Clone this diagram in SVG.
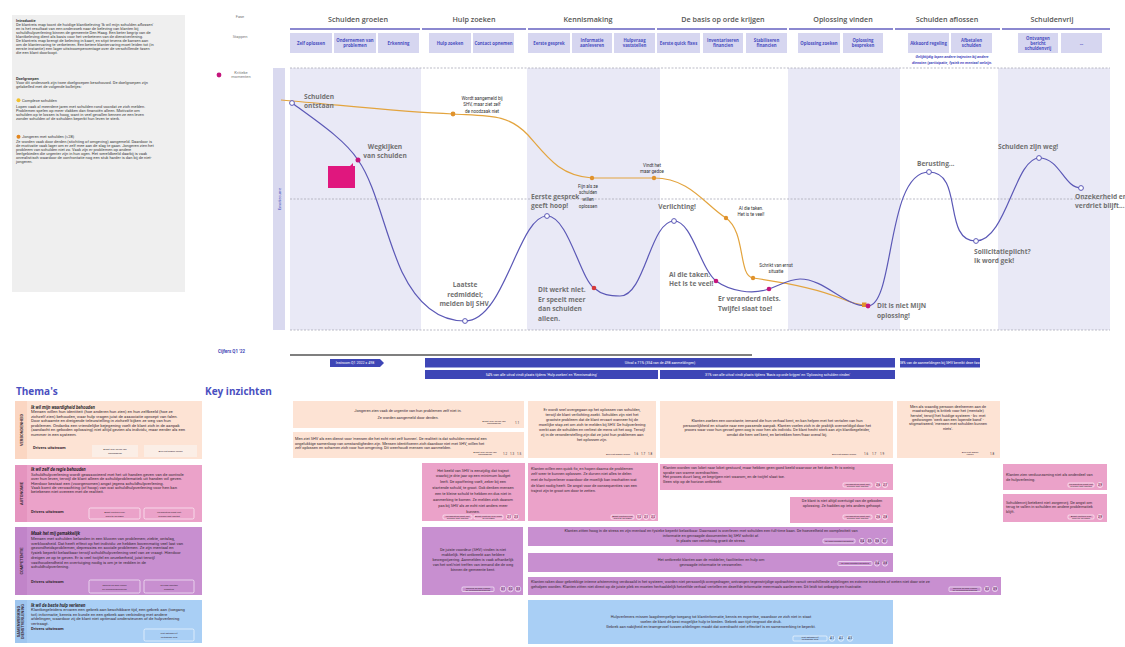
<svg xmlns="http://www.w3.org/2000/svg" width="1125" height="647" viewBox="0 0 1125 647">
<style>
.bg{fill:#ffffff}
.t{font-family:Roboto,"Liberation Sans",sans-serif;fill:#3b3b3b}
.tb{font-weight:700}
.ph{font-family:"Open Sans","Liberation Sans",sans-serif;font-size:7.2px;font-weight:600;fill:#555;text-anchor:middle}
.lbl{font-family:Roboto,"Liberation Sans",sans-serif;font-size:4px;fill:#777;text-anchor:middle}
.step rect{fill:#d6d6f0}
.step text{font-family:"Open Sans","Liberation Sans",sans-serif;font-size:4.3px;font-weight:700;fill:#4a4fc0;text-anchor:middle}
.band{fill:#e9e9f6}
.dash{stroke:#a9a9b8;stroke-width:0.8;stroke-dasharray:2,1.5;fill:none}
.cl{font-family:"Open Sans","Liberation Sans",sans-serif;font-size:6.6px;font-weight:700;fill:#727272}
.ol{font-family:Roboto,"Liberation Sans",sans-serif;font-size:4.5px;fill:#333;text-anchor:middle}
.wc{fill:#fff;stroke:#5b58b6;stroke-width:1}
.od{fill:#e0922c}
.md{fill:#c4157c}
.bar{fill:#3e46b6}
.bart{font-family:Roboto,"Liberation Sans",sans-serif;font-size:3.6px;fill:#fff;text-anchor:middle}
.peach{fill:#fde3d4}
.pink{fill:#eba2c9}
.purp{fill:#c88fd0}
.blue{fill:#a9cff5}
.kt{font-family:Roboto,"Liberation Sans",sans-serif;font-size:3.9px;fill:#3a2b35}
.mid{text-anchor:middle}
.chip{fill:none;stroke:#fff;stroke-width:0.6}
.chipl{fill:#fbeee6;stroke:none}
.ct{font-family:Roboto,"Liberation Sans",sans-serif;font-size:2.4px;fill:#3a2b35;text-anchor:middle}
.cc{fill:none;stroke:#fff;stroke-width:0.6}
.cn{font-family:Roboto,"Liberation Sans",sans-serif;font-size:3px;fill:#3a2b35;text-anchor:middle}
.th{font-family:Roboto,"Liberation Sans",sans-serif;font-size:4.2px;fill:#3a2b35}
.tht{font-family:Roboto,"Liberation Sans",sans-serif;font-size:4.4px;font-weight:700;font-style:italic;fill:#2a1f28}
.rot{font-family:Roboto,"Liberation Sans",sans-serif;font-size:4px;font-weight:700;fill:#3a2b35;text-anchor:middle}
.h2{font-family:"Open Sans","Liberation Sans",sans-serif;font-size:10px;font-weight:700;fill:#4a4fc0}
</style>
<rect class="bg" x="0" y="0" width="1125" height="647"/>

<!-- Intro panel -->
<g id="intro">
<rect x="12" y="15" width="173" height="277" fill="#efefef"/>
<text class="t" font-size="4px"><tspan x="16" y="22" class="tb">Introductie</tspan>
<tspan x="16" y="26.3">De klantreis map toont de huidige klantbeleving 'Ik wil mijn schulden aflossen'</tspan>
<tspan x="16" y="30.3">en is het resultaat van een onderzoek naar de beleving van klanten bij</tspan>
<tspan x="16" y="34.3">schuldhulpverlening binnen de gemeente Den Haag. Een beter begrip van de</tspan>
<tspan x="16" y="38.3">klantbeleving dient als basis voor het verbeteren van de dienstverlening.</tspan>
<tspan x="16" y="42.3">De klantreis map brengt de beleving in kaart, en stipt tevens de kansen aan</tspan>
<tspan x="16" y="46.3">om de klantervaring te verbeteren. Een betere klantervaring moet leiden tot (in</tspan>
<tspan x="16" y="50.3">eerste instantie) een lager uitstroompercentage over de verschillende fasen</tspan>
<tspan x="16" y="54.3">die een klant doorloopt.</tspan>
<tspan x="16" y="80" class="tb">Doelgroepen</tspan>
<tspan x="16" y="84">Voor dit onderzoek zijn twee doelgroepen beschouwd. De doelgroepen zijn</tspan>
<tspan x="16" y="88">gelabelled met de volgende bolletjes:</tspan>
<tspan x="22" y="101.5">Complexe schulden</tspan>
<tspan x="16" y="108">Lopen vaak al meerdere jaren met schulden rond voordat ze zich melden.</tspan>
<tspan x="16" y="112">Problemen spelen op meer vlakken dan financiën alleen. Motivatie om</tspan>
<tspan x="16" y="116">schulden op te lossen is hoog, want in veel gevallen kennen ze een leven</tspan>
<tspan x="16" y="120">zonder schulden of de schulden beperkt hun leven te sterk.</tspan>
<tspan x="22" y="138">Jongeren met schulden (&lt;28)</tspan>
<tspan x="16" y="143">Ze worden vaak door derden (stichting of omgeving) aangemeld. Daardoor is</tspan>
<tspan x="16" y="147">de motivatie vaak lager om er zelf mee aan de slag te gaan. Jongeren zien het</tspan>
<tspan x="16" y="151">probleem van schulden niet zo. Vaak zijn er problemen op andere</tspan>
<tspan x="16" y="155">leefgebieden die urgenter zijn in hun ogen. Het wereldbeeld daarbij is vaak</tspan>
<tspan x="16" y="159">onrealistisch waardoor de confrontatie nog een stuk harder is dan bij de niet-</tspan>
<tspan x="16" y="163">jongeren.</tspan></text>
<circle cx="18.5" cy="100.3" r="2" fill="#f2c12e"/>
<circle cx="18.5" cy="136.8" r="2" fill="#e2861e"/>
</g>

<!-- Header -->
<g id="header">
<text class="lbl" x="240" y="18">Fase</text>
<text class="lbl" x="240" y="38">Stappen</text>
<circle cx="219" cy="75" r="2.4" class="md"/>
<text class="lbl" x="241" y="73.5">Kritieke</text>
<text class="lbl" x="241" y="78.3">momenten</text>
<text class="ph" x="358" y="22">Schulden groeien</text>
<text class="ph" x="474" y="22">Hulp zoeken</text>
<text class="ph" x="588" y="22">Kennismaking</text>
<text class="ph" x="723" y="22">De basis op orde krijgen</text>
<text class="ph" x="843" y="22">Oplossing vinden</text>
<text class="ph" x="947" y="22">Schulden aflossen</text>
<text class="ph" x="1052" y="22">Schuldenvrij</text>
<g stroke="#8b88d0" stroke-width="1.8">
<line x1="290" y1="29" x2="420" y2="29"/><line x1="422" y1="29" x2="526" y2="29"/><line x1="528" y1="29" x2="655" y2="29"/><line x1="657" y1="29" x2="787" y2="29"/><line x1="789" y1="29" x2="893" y2="29"/><line x1="895" y1="29" x2="1000" y2="29"/><line x1="1002" y1="29" x2="1110" y2="29"/>
</g>
</g>

<g id="steps">
<g class="step" id="s1"><rect x="290" y="33" width="42" height="20"/><text x="311" y="44.5">Zelf oplossen</text></g>
<g class="step" id="s2"><rect x="334" y="33" width="42" height="20"/><text x="355" y="42">Ondernemen van</text><text x="355" y="47.2">problemen</text></g>
<g class="step" id="s3"><rect x="378" y="33" width="41" height="20"/><text x="398.5" y="44.5">Erkenning</text></g>
<g class="step" id="s4"><rect x="429" y="33" width="42" height="20"/><text x="450" y="44.5">Hulp zoeken</text></g>
<g class="step" id="s5"><rect x="473" y="33" width="41" height="20"/><text x="493.5" y="44.5">Contact opnemen</text></g>
<g class="step" id="s6"><rect x="528" y="33" width="42" height="20"/><text x="549" y="44.5">Eerste gesprek</text></g>
<g class="step" id="s7"><rect x="572" y="33" width="40" height="20"/><text x="592" y="42">Informatie</text><text x="592" y="47.2">aanleveren</text></g>
<g class="step" id="s8"><rect x="614" y="33" width="41" height="20"/><text x="634.5" y="42">Hulpvraag</text><text x="634.5" y="47.2">vaststellen</text></g>
<g class="step" id="s9"><rect x="657" y="33" width="43" height="20"/><text x="678.5" y="44.5">Eerste quick fixes</text></g>
<g class="step" id="s10"><rect x="703" y="33" width="40" height="20"/><text x="723" y="42">Inventariseren</text><text x="723" y="47.2">financien</text></g>
<g class="step" id="s11"><rect x="746" y="33" width="41" height="20"/><text x="766.5" y="42">Stabiliseren</text><text x="766.5" y="47.2">financien</text></g>
<g class="step" id="s12"><rect x="798" y="33" width="42" height="20"/><text x="819" y="44.5">Oplossing zoeken</text></g>
<g class="step" id="s13"><rect x="843" y="33" width="40" height="20"/><text x="863" y="42">Oplossing</text><text x="863" y="47.2">bespreken</text></g>
<g class="step" id="s14"><rect x="908" y="33" width="41" height="20"/><text x="928.5" y="44.5">Akkoord regeling</text></g>
<g class="step" id="s15"><rect x="951" y="33" width="41" height="20"/><text x="971.5" y="42">Afbetalen</text><text x="971.5" y="47.2">schulden</text></g>
<g class="step" id="s16"><rect x="1018" y="33" width="40" height="20"/><text x="1038" y="39.5">Ontvangen</text><text x="1038" y="44.5">bericht</text><text x="1038" y="49.5">schuldenvrij</text></g>
<g class="step" id="s17"><rect x="1061" y="33" width="41" height="20"/><text x="1081.5" y="44.5">...</text></g>
<text font-family="Roboto,'Liberation Sans',sans-serif" font-size="3.8px" font-style="italic" font-weight="700" fill="#4a4fc0" text-anchor="middle"><tspan x="952" y="58">Gelijktijdig lopen andere trajecten bij andere</tspan><tspan x="952" y="64">diensten (participatie, fysiek en mentaal welzijn.</tspan></text>
</g>

<!-- Chart -->
<g id="chart">
<rect class="band" x="290" y="68" width="131" height="262"/>
<rect class="band" x="527" y="68" width="133" height="262"/>
<rect class="band" x="788" y="68" width="112" height="262"/>
<rect class="band" x="998" y="68" width="112" height="262"/>
<rect x="273" y="68" width="12" height="262" fill="#d9d9ef"/>
<text transform="translate(280.5,199) rotate(-90)" font-family="Roboto,'Liberation Sans',sans-serif" font-size="4px" fill="#4a4fc0" text-anchor="middle">Emotiecurve</text>
<line class="dash" x1="290" y1="68" x2="1110" y2="68"/>
<line class="dash" x1="290" y1="199" x2="1110" y2="199"/>
<line class="dash" x1="290" y1="330" x2="1110" y2="330"/>
</g>

<g id="connectors">
<path d="M281,100 C350,106 400,112 453,114 C490,116 508,114 528,135 C548,158 560,176 592,178 L654,178 C690,178 705,205 726,218 C746,232 738,276 753,278 C790,283 820,290 840,298 C852,303 858,305 866,305" fill="none" stroke="#e3a43e" stroke-width="1.2"/>
<path d="M292,103 C318,122 345,140 358,160 C376,185 385,235 402,272 C418,305 440,321 465,321 C505,321 518,216 547,216 C568,216 580,278 594,288 C602,295 610,296 620,296 C645,296 650,221 674,221 C692,221 700,268 716,281 C730,291 752,295 769,289 C780,285 790,279 800,279 C825,279 845,307 868,306 C895,305 886,172 929,172 C964,172 942,241 976,241 C1006,241 1015,158 1039,158 C1060,158 1064,188 1081,188" fill="none" stroke="#5b58b6" stroke-width="1.2"/>
</g>

<g id="markers">
<circle class="od" cx="453" cy="114" r="2.4"/>
<circle class="od" cx="592" cy="178" r="2.2"/>
<circle class="od" cx="654" cy="178" r="2.2"/>
<circle class="od" cx="726" cy="218" r="2.2"/>
<circle class="od" cx="753" cy="278" r="2.2"/>
<rect class="od" x="862" y="302.5" width="4.5" height="4.5"/>
<circle class="md" cx="358" cy="160" r="2.5"/>
<circle class="md" cx="716" cy="281" r="2.3"/>
<circle class="md" cx="769" cy="289" r="2.3"/>
<circle class="md" cx="868" cy="306" r="2.4"/>
<circle cx="594" cy="288" r="2.3" fill="#d63a3a"/>
<circle class="wc" cx="292" cy="103" r="2.4"/>
<circle class="wc" cx="465" cy="321" r="2.4"/>
<circle class="wc" cx="547" cy="216" r="2.4"/>
<circle class="wc" cx="674" cy="221" r="2.4"/>
<circle class="wc" cx="929" cy="172" r="2.4"/>
<circle class="wc" cx="976" cy="241" r="2.4"/>
<circle class="wc" cx="1039" cy="158" r="2.4"/>
<circle class="wc" cx="1081" cy="188" r="2.4"/>
<path d="M328,166 H350 L353,163 L353,166 H355 V188 H328 Z" fill="#e0177e"/>
</g>

<g id="curve-labels">
<text class="cl"><tspan x="304" y="98.5">Schulden</tspan><tspan x="304" y="107.5">ontstaan</tspan></text>
<text class="cl" text-anchor="middle"><tspan x="385" y="148.5">Wegkijken</tspan><tspan x="385" y="157.5">van schulden</tspan></text>
<text class="cl" text-anchor="middle"><tspan x="465" y="287">Laatste</tspan><tspan x="465" y="296.5">redmiddel;</tspan><tspan x="465" y="306">melden bij SHV.</tspan></text>
<text class="cl"><tspan x="531" y="198.5">Eerste gesprek</tspan><tspan x="531" y="208">geeft hoop!</tspan></text>
<text class="cl"><tspan x="538" y="292">Dit werkt niet.</tspan><tspan x="538" y="301.5">Er speelt meer</tspan><tspan x="538" y="311">dan schulden</tspan><tspan x="538" y="320.5">alleen.</tspan></text>
<text class="cl" text-anchor="middle"><tspan x="677" y="209">Verlichting!</tspan></text>
<text class="cl"><tspan x="669" y="276.5">Al die taken.</tspan><tspan x="669" y="285.5">Het is te veel!</tspan></text>
<text class="cl"><tspan x="718" y="301">Er veranderd niets.</tspan><tspan x="718" y="311">Twijfel slaat toe!</tspan></text>
<text class="cl"><tspan x="877" y="307.5">Dit is niet MIJN</tspan><tspan x="877" y="317.5">oplossing!</tspan></text>
<text class="cl"><tspan x="917" y="166">Berusting...</tspan></text>
<text class="cl"><tspan x="974" y="253.5">Sollicitatieplicht?</tspan><tspan x="974" y="262.5">Ik word gek!</tspan></text>
<text class="cl"><tspan x="998" y="149">Schulden zijn weg!</tspan></text>
<text class="cl"><tspan x="1075" y="198.5">Onzekerheid en</tspan><tspan x="1075" y="208">verdriet blijft...</tspan></text>
<text class="ol"><tspan x="482" y="99.5">Wordt aangemeld bij</tspan><tspan x="482" y="106">SHV, maar ziet zelf</tspan><tspan x="482" y="112.5">de noodzaak niet</tspan></text>
<text class="ol"><tspan x="588" y="187.5">Fijn als ze</tspan><tspan x="588" y="194.3">schulden</tspan><tspan x="588" y="201">willen</tspan><tspan x="588" y="207.8">oplossen</tspan></text>
<text class="ol"><tspan x="652" y="166.5">Vindt het</tspan><tspan x="652" y="173">maar gedoe</tspan></text>
<text class="ol"><tspan x="751" y="209.5">Al die taken.</tspan><tspan x="751" y="215.8">Het is te veel!</tspan></text>
<text class="ol"><tspan x="776" y="266.5">Schrikt van ernst</tspan><tspan x="776" y="273">situatie</tspan></text>
</g>

<!-- Cijfers -->
<g id="cijfers">
<text font-family="Roboto,'Liberation Sans',sans-serif" font-size="4.5px" font-weight="700" fill="#3e46b6" x="218" y="353">Cijfers Q1 '22</text>
<line x1="290" y1="355" x2="752" y2="355" stroke="#555" stroke-width="1.3"/>
<path class="bar" d="M330,359 H380 L384,363 L380,367 H330 Z"/>
<text class="bart" x="355" y="364.3">Instroom Q1 2022 = 498</text>
<rect class="bar" x="425" y="358" width="470" height="9.5"/>
<text class="bart" x="660" y="364">Uitval = 71% (354 van de 498 aanmeldingen)</text>
<rect class="bar" x="900" y="358" width="80" height="9.5"/>
<text class="bart" x="940" y="364">28% van de aanmeldingen bij SHV bereikt deze fase</text>
<rect class="bar" x="425" y="370" width="233" height="9"/>
<text class="bart" x="541.5" y="375.8">54% van alle uitval vindt plaats tijdens 'Hulp zoeken' en 'Kennismaking'</text>
<rect class="bar" x="660" y="370" width="235" height="9"/>
<text class="bart" x="777.5" y="375.8">31% van alle uitval vindt plaats tijdens 'Basis op orde krijgen' en 'Oplossing schulden vinden'</text>
</g>

<!-- Themes -->
<text class="h2" x="16" y="395">Thema's</text>
<text class="h2" x="205" y="395">Key inzichten</text>

<g id="theme1">
<rect class="peach" x="15" y="401" width="187" height="58"/>
<rect x="15" y="401" width="12" height="58" fill="#fbd6c2"/>
<text class="rot" transform="translate(22.5,430) rotate(-90)">VERBONDENHEID</text>
<text class="tht" x="31" y="408.5">Ik wil mijn waardigheid behouden</text>
<text class="th"><tspan x="31" y="413">Mensen willen hun identiteit (hoe anderen hun zien) en hun zelfbeeld (hoe ze</tspan><tspan x="31" y="417.6">zichzelf zien) behouden, waar hulp vragen juist de associatie oproept van falen.</tspan><tspan x="31" y="422.2">Door schaamte en dreigende teleurstelling in zichzelf kijken ze weg van hun</tspan><tspan x="31" y="426.8">problemen. Ondanks een vriendelijke bejegening voelt de klant zich in de aanpak</tspan><tspan x="31" y="431.4">(aandacht en geboden oplossing) niet altijd gezien als individu, maar eerder als een</tspan><tspan x="31" y="436">nummer in een systeem.</tspan></text>
<text class="th tb" x="33" y="448.5">Drivers uitstroom</text>
<rect class="chipl" x="92" y="445" width="46" height="12"/>
<text class="ct" font-size="3.4px"><tspan x="115" y="450">Angst voor verlies van</tspan><tspan x="115" y="454">eigenwaarde</tspan></text>
<rect class="chipl" x="144" y="445" width="53" height="12"/>
<text class="ct" font-size="3.4px" x="170.5" y="452">Zich niet gezien voelen</text>
</g>

<g id="theme2">
<rect class="pink" x="15" y="465" width="187" height="57"/>
<rect x="15" y="465" width="12" height="57" fill="#e594bf"/>
<text class="rot" transform="translate(22.5,493.5) rotate(-90)">AUTONOMIE</text>
<text class="tht" x="31" y="471">Ik wil zelf de regie behouden</text>
<text class="th"><tspan x="31" y="475.7">Schuldhulpverlening wordt geassocieerd met het uit handen geven van de controle</tspan><tspan x="31" y="480.1">over hun leven, terwijl de klant alleen de schuldproblematiek uit handen wil geven.</tspan><tspan x="31" y="484.5">Hierdoor bestaat een (voorgenomen) angst jegens schuldhulpverlening.</tspan><tspan x="31" y="488.9">Vaak komt de verwachting (of hoop) van wat schuldhulpverlening voor hen kan</tspan><tspan x="31" y="493.3">betekenen niet overeen met de realiteit.</tspan></text>
<text class="th tb" x="31" y="512.5">Drivers uitstroom</text>
<rect class="chip" x="89" y="508" width="51" height="11" rx="1.5"/>
<text class="ct" font-size="3.4px"><tspan x="114.5" y="512.7">Angst controle over</tspan><tspan x="114.5" y="516.5">leven te verliezen</tspan></text>
<rect class="chip" x="144" y="508" width="50" height="11" rx="1.5"/>
<text class="ct" font-size="3.4px"><tspan x="169" y="512.7">Verwachting komt niet</tspan><tspan x="169" y="516.5">overeen met realiteit</tspan></text>
</g>

<g id="theme3">
<rect class="purp" x="15" y="527" width="187" height="68"/>
<rect x="15" y="527" width="12" height="68" fill="#c184c9"/>
<text class="rot" transform="translate(22.5,561) rotate(-90)">COMPETENTIE</text>
<text class="tht" x="31" y="535">Maak het mij gemakkelijk</text>
<text class="th"><tspan x="31" y="540">Mensen met schulden belanden in een kluwen van problemen; ziekte, ontslag,</tspan><tspan x="31" y="544.7">werkloosheid. Dat heeft effect op het individu: ze hebben bovenmatig veel last van</tspan><tspan x="31" y="549.4">gezondheidsproblemen, depressies en sociale problemen. Ze zijn mentaal en</tspan><tspan x="31" y="554.1">fysiek beperkt belastbaar terwijl schuldhulpverlening veel van ze vraagt. Hierdoor</tspan><tspan x="31" y="558.8">dreigen ze op te geven. Er is veel twijfel en onzekerheid, juist terwijl</tspan><tspan x="31" y="563.5">vasthoudendheid en overtuiging nodig is om je te redden in de</tspan><tspan x="31" y="568.2">schuldhulpverlening.</tspan></text>
<text class="th tb" x="31" y="583">Drivers uitstroom</text>
<rect class="chip" x="89" y="580" width="51" height="13" rx="1.5"/>
<text class="ct" font-size="3.4px"><tspan x="114.5" y="585.5">Moeilijk de weg vinden</tspan><tspan x="114.5" y="589.5">bij schuldhulpverlening</tspan></text>
<rect class="chip" x="144" y="580" width="50" height="13" rx="1.5"/>
<text class="ct" font-size="3.4px"><tspan x="169" y="585.5">Te hoge mentale</tspan><tspan x="169" y="589.5">belasting</tspan></text>
</g>

<g id="theme4">
<rect class="blue" x="15" y="600" width="187" height="43"/>
<rect x="15" y="600" width="12" height="43" fill="#9fc6ef"/>
<text class="rot" font-size="2.6px" transform="translate(20.3,621.5) rotate(-90)">SAMENWERKING</text>
<text class="rot" font-size="2.6px" transform="translate(24.2,621.5) rotate(-90)">DIENSTVERLENING</text>
<text class="tht" x="31" y="606.5">Ik wil de beste hulp verlenen</text>
<text class="th"><tspan x="31" y="611">Klantbegeleiders ervaren een gebrek aan beschikbare tijd, een gebrek aan (toegang</tspan><tspan x="31" y="615.6">tot) informatie, kennis en kunde en een gebrek aan verbinding met andere</tspan><tspan x="31" y="620.2">afdelingen, waardoor zij de klant niet optimaal ondersteunen of de hulpverlening</tspan><tspan x="31" y="624.8">vertraagt.</tspan></text>
<text class="th tb" x="31" y="630">Drivers uitstroom</text>
<rect class="chip" x="144" y="629" width="50" height="12" rx="1.5"/>
<text class="ct" font-size="3.4px"><tspan x="169" y="634.2">Niet optimale of</tspan><tspan x="169" y="638">vertraagde hulp</tspan></text>
</g>

<!-- Key insights -->
<g id="kA">
<rect class="peach" x="293" y="401" width="231" height="27"/>
<text class="kt mid" font-size="4.2px"><tspan x="408" y="412">Jongeren zien vaak de urgentie van hun problemen zelf niet in.</tspan><tspan x="408" y="418.5">Ze worden aangemeld door derden.</tspan></text>
<text class="ct" font-size="2.2px"><tspan x="494" y="421.5">Angst voor verlies van</tspan><tspan x="494" y="423.8">eigenwaarde</tspan></text>
<text class="cn" x="517" y="423.5">1.1</text>
</g>
<g id="kB">
<rect class="peach" x="293" y="432" width="231" height="26"/>
<text class="kt"><tspan x="295" y="440">Men ziet SHV als een dienst voor 'mensen die het echt niet zelf kunnen'. De realiteit is dat schulden meestal een</tspan><tspan x="295" y="444.7">ongelukkige samenloop van omstandigheden zijn. Mensen identificeren zich daardoor niet met SHV, willen het</tspan><tspan x="295" y="449.4">zelf oplossen en schamen zich voor hun omgeving. Dit weerhoudt mensen van aanmelden.</tspan></text>
<text class="ct" font-size="2.2px"><tspan x="485" y="453">Angst voor verlies van</tspan><tspan x="485" y="455.3">eigenwaarde</tspan></text>
<text class="cn" x="505" y="455">1.2</text><text class="cn" x="512" y="455">1.3</text><text class="cn" x="519" y="455">1.5</text>
</g>
<g id="kC">
<rect class="peach" x="528" y="401" width="128" height="57"/>
<text class="kt mid"><tspan x="592" y="410.5">Er wordt snel overgegaan op het oplossen van schulden,</tspan><tspan x="592" y="415.5">terwijl de klant verlichting zoekt. Schulden zijn niet het</tspan><tspan x="592" y="420.5">grootste probleem dat de klant ervaart wanneer hij de</tspan><tspan x="592" y="425.5">moeilijke stap zet om zich te melden bij SHV. De hulpverlening</tspan><tspan x="592" y="430.5">werkt aan de schulden en verliest de mens uit het oog. Terwijl</tspan><tspan x="592" y="435.5">zij in de veronderstelling zijn dat ze juist hun problemen aan</tspan><tspan x="592" y="440.5">het oplossen zijn.</tspan></text>
<text class="ct" font-size="2.2px" x="618" y="455">Zich niet gezien voelen</text>
<text class="cn" x="636" y="455">1.6</text><text class="cn" x="643" y="455">1.7</text><text class="cn" x="650" y="455">1.8</text>
</g>
<g id="kD">
<rect class="peach" x="660" y="401" width="233" height="57"/>
<text class="kt mid"><tspan x="777" y="422">Klanten zoeken een constante; iemand die hun verhaal kent, en kan helpen met het vertalen van hun</tspan><tspan x="777" y="426.6">persoonlijkheid en situatie naar een passende aanpak. Klanten voelen zich in de praktijk overweldigd door het</tspan><tspan x="777" y="431.2">proces waar voor hun gevoel geen oog is voor hen als individu. De klant hecht sterk aan zijn klantbegeleider,</tspan><tspan x="777" y="435.8">omdat die hem wel kent, en betrekken hem/haar overal bij.</tspan></text>
<text class="ct" font-size="2.2px" x="844" y="455">Zich niet gezien voelen</text>
<text class="cn" x="866" y="455">1.6</text><text class="cn" x="874" y="455">1.7</text><text class="cn" x="882" y="455">1.9</text>
</g>
<g id="kE">
<rect class="peach" x="897" y="401" width="103" height="57"/>
<text class="kt mid"><tspan x="948" y="408">Men als waardig persoon deelnemen aan de</tspan><tspan x="948" y="412.3">maatschappij is kritiek voor het (mentale)</tspan><tspan x="948" y="416.6">herstel, terwijl het huidige systeem - bv. met</tspan><tspan x="948" y="420.9">gedwongen 'werk aan een lopende band' -</tspan><tspan x="948" y="425.2">stigmatiseerd; 'mensen met schulden kunnen</tspan><tspan x="948" y="429.5">niets'.</tspan></text>
<text class="ct" font-size="2.2px"><tspan x="970" y="453">Zich niet gezien</tspan><tspan x="970" y="455.3">voelen</tspan></text>
<text class="cn" x="992" y="455">1.8</text>
</g>

<g id="kF">
<rect class="pink" x="422" y="463" width="103" height="58"/>
<text class="kt mid"><tspan x="473" y="471.5">Het beeld van SHV is eenzijdig; dat traject</tspan><tspan x="473" y="477.4">waarbij je drie jaar op een minimum budget</tspan><tspan x="473" y="483.3">leeft. De opoffering voelt, zeker bij een</tspan><tspan x="473" y="489.2">startende schuld, te groot. Ook denken mensen</tspan><tspan x="473" y="495.1">een te kleine schuld te hebben en dus niet in</tspan><tspan x="473" y="501">aanmerking te komen. Ze melden zich daarom</tspan><tspan x="473" y="506.9">pas bij SHV als ze echt niet anders meer</tspan><tspan x="473" y="512.8">kunnen.</tspan></text>
<rect class="chip" x="443" y="515" width="29" height="4" rx="1"/>
<text class="ct" font-size="1.6px"><tspan x="457.5" y="516.7">Verwachting komt niet</tspan><tspan x="457.5" y="518.5">overeen met realiteit</tspan></text>
<rect class="chip" x="474" y="515" width="29" height="4" rx="1"/>
<text class="ct" font-size="1.6px"><tspan x="488.5" y="516.7">Angst controle over leven</tspan><tspan x="488.5" y="518.5">te verliezen</tspan></text>
<circle class="cc" cx="509" cy="517" r="2.6"/><text class="cn" font-size="2.2px" x="509" y="517.8">2.1</text>
<circle class="cc" cx="516" cy="517" r="2.6"/><text class="cn" font-size="2.2px" x="516" y="517.8">2.3</text>
</g>
<g id="kG">
<rect class="pink" x="528" y="463" width="130" height="58"/>
<text class="kt"><tspan x="531" y="469.5">Klanten willen een quick fix, en hopen daarna de problemen</tspan><tspan x="531" y="475.2">zelf weer te kunnen oplossen. Ze durven niet alles te delen</tspan><tspan x="531" y="480.9">met de hulpverlener waardoor die moeilijk kan inschatten wat</tspan><tspan x="531" y="486.6">de klant nodig heeft. De angst voor de consequenties van een</tspan><tspan x="531" y="492.3">traject zijn te groot om door te zetten.</tspan></text>
<rect class="chip" x="611" y="515" width="23" height="4" rx="1"/>
<text class="ct" font-size="1.6px"><tspan x="622.5" y="516.7">Angst controle over</tspan><tspan x="622.5" y="518.5">leven te verliezen</tspan></text>
<circle class="cc" cx="639" cy="517" r="2.6"/><text class="cn" font-size="2.2px" x="639" y="517.8">1.2</text>
<circle class="cc" cx="646" cy="517" r="2.6"/><text class="cn" font-size="2.2px" x="646" y="517.8">2.1</text>
<circle class="cc" cx="653" cy="517" r="2.6"/><text class="cn" font-size="2.2px" x="653" y="517.8">2.2</text>
</g>
<g id="kH">
<rect class="pink" x="660" y="464" width="233" height="26"/>
<text class="kt"><tspan x="663" y="469">Klanten worden van loket naar loket gestuurd, maar hebben geen goed beeld waarvoor ze het doen. Er is weinig</tspan><tspan x="663" y="473.5">sprake van warme overdrachten.</tspan><tspan x="663" y="478">Het proces duurt lang, ze begrijpen niet waarom, en de twijfel slaat toe.</tspan><tspan x="663" y="482.5">Geen stip op de horizon ontbreekt.</tspan></text>
<rect class="chip" x="843" y="483" width="29" height="4" rx="1"/>
<text class="ct" font-size="1.6px"><tspan x="857.5" y="484.7">Verwachting komt niet</tspan><tspan x="857.5" y="486.5">overeen met realiteit</tspan></text>
<circle class="cc" cx="878" cy="485" r="2.6"/><text class="cn" font-size="2.2px" x="878" y="485.8">2.6</text>
<circle class="cc" cx="885" cy="485" r="2.6"/><text class="cn" font-size="2.2px" x="885" y="485.8">2.7</text>
</g>
<g id="kI">
<rect class="pink" x="790" y="497" width="103" height="26"/>
<text class="kt mid"><tspan x="842" y="502">De klant is niet altijd overtuigd van de geboden</tspan><tspan x="842" y="507">oplossing. Ze hadden op iets anders gehoopt.</tspan></text>
<rect class="chip" x="843" y="515" width="29" height="4" rx="1"/>
<text class="ct" font-size="1.6px"><tspan x="857.5" y="516.7">Verwachting komt niet</tspan><tspan x="857.5" y="518.5">overeen met realiteit</tspan></text>
<circle class="cc" cx="878" cy="517" r="2.6"/><text class="cn" font-size="2.2px" x="878" y="517.8">2.6</text>
<circle class="cc" cx="885" cy="517" r="2.6"/><text class="cn" font-size="2.2px" x="885" y="517.8">2.8</text>
</g>
<g id="kJ">
<rect class="pink" x="1003" y="464" width="104" height="26"/>
<text class="kt"><tspan x="1006" y="476">Klanten zien verduurzaming niet als onderdeel van</tspan><tspan x="1006" y="480.7">de hulpverlening.</tspan></text>
<rect class="chip" x="1068" y="483" width="26" height="4" rx="1"/>
<text class="ct" font-size="1.6px"><tspan x="1081" y="484.7">Verwachting komt niet</tspan><tspan x="1081" y="486.5">overeen met realiteit</tspan></text>
<circle class="cc" cx="1100" cy="485" r="2.6"/><text class="cn" font-size="2.2px" x="1100" y="485.8">2.9</text>
</g>
<g id="kK">
<rect class="pink" x="1003" y="494" width="104" height="28"/>
<text class="kt"><tspan x="1006" y="503.5">Schuldenvrij betekent niet zorgenvrij. De angst om</tspan><tspan x="1006" y="508.2">terug te vallen in schulden en andere problematiek</tspan><tspan x="1006" y="512.9">blijft.</tspan></text>
<rect class="chip" x="1068" y="515" width="26" height="4" rx="1"/>
<text class="ct" font-size="1.6px"><tspan x="1081" y="516.7">Angst controle over</tspan><tspan x="1081" y="518.5">leven te verliezen</tspan></text>
<circle class="cc" cx="1100" cy="517" r="2.6"/><text class="cn" font-size="2.2px" x="1100" y="517.8">2.9</text>
</g>

<g id="kL">
<rect class="purp" x="422" y="527" width="101" height="68"/>
<text class="kt mid"><tspan x="473" y="551">De juiste voordeur (SHV) vinden is niet</tspan><tspan x="473" y="556">makkelijk. Het ontbreekt aan heldere</tspan><tspan x="473" y="561">bewegwijzering. Aanmelden is vaak afhankelijk</tspan><tspan x="473" y="566">van het wel/niet treffen van iemand die de weg</tspan><tspan x="473" y="571">binnen de gemeente kent.</tspan></text>
<rect class="chip" x="462" y="587" width="32" height="4.5" rx="1"/>
<text class="ct" font-size="1.6px"><tspan x="478" y="588.8">Moeilijk de weg vinden</tspan><tspan x="478" y="590.7">bij schuldhulpverlening</tspan></text>
<circle class="cc" cx="503" cy="589" r="2.8"/><text class="cn" font-size="2.2px" x="503" y="589.8">3.1</text>
<circle class="cc" cx="510.5" cy="589" r="2.8"/><text class="cn" font-size="2.2px" x="510.5" y="589.8">3.2</text>
<circle class="cc" cx="518" cy="589" r="2.8"/><text class="cn" font-size="2.2px" x="518" y="589.8">3.3</text>
</g>
<g id="kM">
<rect class="purp" x="528" y="527" width="365" height="19"/>
<text class="kt mid"><tspan x="711" y="532">Klanten zitten hoog in de stress en zijn mentaal en fysieke beperkt belastbaar. Daarnaast is overleven met schulden een full-time baan. De hoeveelheid en complexiteit van</tspan><tspan x="711" y="537">informatie en gevraagde documenten bij SHV schrikt af.</tspan><tspan x="711" y="542">In plaats van verlichting groeit de stress.</tspan></text>
<rect class="chip" x="823" y="539" width="32" height="4" rx="1"/>
<text class="ct" font-size="2px" x="839" y="541.7">Te hoge mentale belasting</text>
<circle class="cc" cx="862" cy="541" r="2.6"/><text class="cn" font-size="2.2px" x="862" y="541.8">3.4</text>
<circle class="cc" cx="869.5" cy="541" r="2.6"/><text class="cn" font-size="2.2px" x="869.5" y="541.8">3.5</text>
<circle class="cc" cx="877" cy="541" r="2.6"/><text class="cn" font-size="2.2px" x="877" y="541.8">3.6</text>
<circle class="cc" cx="884.5" cy="541" r="2.6"/><text class="cn" font-size="2.2px" x="884.5" y="541.8">3.7</text>
</g>
<g id="kN">
<rect class="purp" x="528" y="553" width="365" height="19"/>
<text class="kt mid"><tspan x="711" y="560.5">Het ontbreekt klanten aan de middelen, faciliteiten en hulp om</tspan><tspan x="711" y="565.5">gevraagde informatie te verzamelen.</tspan></text>
<rect class="chip" x="838" y="561.5" width="34" height="4" rx="1"/>
<text class="ct" font-size="2px" x="855" y="564.2">Te hoge mentale belasting</text>
<circle class="cc" cx="877" cy="563.5" r="2.6"/><text class="cn" font-size="2.2px" x="877" y="564.3">3.4</text>
<circle class="cc" cx="885" cy="563.5" r="2.6"/><text class="cn" font-size="2.2px" x="885" y="564.3">3.8</text>
</g>
<g id="kO">
<rect class="purp" x="528" y="577" width="473" height="18"/>
<text class="kt"><tspan x="531" y="583">Klanten raken door gebrekkige interne afstemming verdwaald in het systeem, worden niet persoonlijk overgedragen, ontvangen tegenstrijdige opdrachten vanuit verschillende afdelingen en externe instanties of weten niet door wie ze</tspan><tspan x="531" y="588.3">geholpen worden. Klanten zitten niet direct op de juiste plek en moeten herhaaldelijk hetzelfde verhaal vertellen en dezelfde informatie meermaals aanleveren. Dit leidt tot onbegrip en frustratie.</tspan></text>
<rect class="chip" x="949" y="587" width="32" height="4.5" rx="1"/>
<text class="ct" font-size="1.6px"><tspan x="965" y="588.8">Moeilijk de weg vinden</tspan><tspan x="965" y="590.7">bij schuldhulpverlening</tspan></text>
<circle class="cc" cx="987" cy="589" r="2.6"/><text class="cn" font-size="2.2px" x="987" y="589.8">3.2</text>
<circle class="cc" cx="995" cy="589" r="2.6"/><text class="cn" font-size="2.2px" x="995" y="589.8">3.9</text>
</g>
<g id="kP">
<rect class="blue" x="528" y="600" width="365" height="44"/>
<text class="kt mid"><tspan x="711" y="618">Hulpverleners missen laagdrempelige toegang tot klantinformatie, kennis en expertise, waardoor ze zich niet in staat</tspan><tspan x="711" y="623">voelen de klant de best mogelijke hulp te bieden. Gebrek aan tijd vergroot die druk.</tspan><tspan x="711" y="628">Gebrek aan nabijheid en teamgevoel tussen afdelingen maakt dat overdracht niet effectief is en samenwerking te beperkt.</tspan></text>
<rect class="chip" x="793" y="636" width="34" height="5" rx="1"/>
<text class="ct" font-size="1.6px"><tspan x="810" y="638">Niet optimale of</tspan><tspan x="810" y="640">vertraagde hulp</tspan></text>
<circle class="cc" cx="832" cy="638.5" r="2.8"/><text class="cn" font-size="2.2px" x="832" y="639.3">4.1</text>
<circle class="cc" cx="841" cy="638.5" r="2.8"/><text class="cn" font-size="2.2px" x="841" y="639.3">4.2</text>
<circle class="cc" cx="850" cy="638.5" r="2.8"/><text class="cn" font-size="2.2px" x="850" y="639.3">4.3</text>
</g>
</svg>
